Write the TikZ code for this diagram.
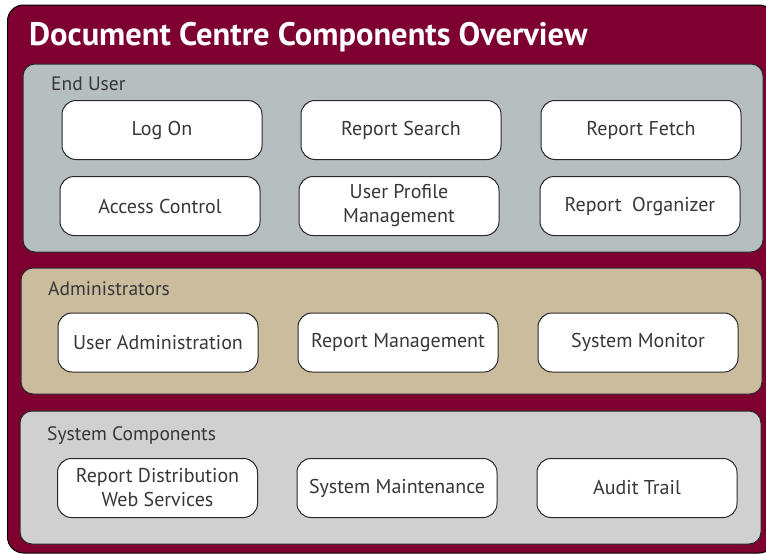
\documentclass[tikz,border=0pt]{standalone}
\usepackage{fontspec}
\setmainfont{PT Sans}
\definecolor{outerred}{RGB}{126,0,48}
\definecolor{enduser}{RGB}{182,191,191}
\definecolor{admin}{RGB}{202,188,157}
\definecolor{syscomp}{RGB}{208,208,208}
\definecolor{txt}{RGB}{55,55,55}
\definecolor{edge}{RGB}{40,40,40}
\tikzset{
  panel/.style={draw=edge, line width=1pt, rounded corners=12pt},
  comp/.style={draw=edge, line width=1pt, fill=white, rounded corners=14pt,
    minimum width=200pt, minimum height=59pt, inner sep=0pt, align=center,
    text=txt, font=\fontsize{20}{24}\selectfont},
  paneltitle/.style={anchor=base west, text=txt, inner sep=0pt, font=\fontsize{19.5}{23}\selectfont},
}
\begin{document}
\begin{tikzpicture}[x=1pt,y=-1pt]
\useasboundingbox (0,0) rectangle (766,554);
\fill[white] (0,0) rectangle (766,554);
\begin{scope}
\clip (0,0) rectangle (766,554);
\draw[fill=outerred, draw=black, line width=1pt, rounded corners=16pt] (7.5,5) rectangle (775,553);
\end{scope}
\node[anchor=base west, text=white, inner sep=0pt, font=\fontsize{32.5}{38}\selectfont\bfseries] (title) at (29,45) {Document Centre Components Overview};
% panels
\draw[panel, fill=enduser] (23,64) rectangle (763,252);
\draw[panel, fill=admin] (21,268) rectangle (762,394);
\draw[panel, fill=syscomp] (20,411) rectangle (761,544);
\node[paneltitle] (eu) at (51,90) {End User};
\node[paneltitle] (ad) at (48,295) {Administrators};
\node[paneltitle] (sc) at (47,440) {System Components};
% end user
\node[comp] (logon) at (162,130) {Log On};
\node[comp] (search) at (401,130) {Report Search};
\node[comp] (fetch) at (641,130) {Report Fetch};
\node[comp] (access) at (160,206) {Access Control};
\node[comp] (profile) at (399,206) {User Profile\\Management};
\node[comp] (organizer) at (640,206) {Report\ \ Organizer};
% administrators
\node[comp] (useradm) at (158,342.5) {User Administration};
\node[comp] (repmgmt) at (398,342.5) {Report Management};
\node[comp] (sysmon) at (638,342.5) {System Monitor};
% system components
\node[comp] (repdist) at (157.5,488) {Report Distribution\\Web Services};
\node[comp] (sysmaint) at (397,488) {System Maintenance};
\node[comp] (audit) at (637,488) {Audit Trail};
\end{tikzpicture}
\end{document}
